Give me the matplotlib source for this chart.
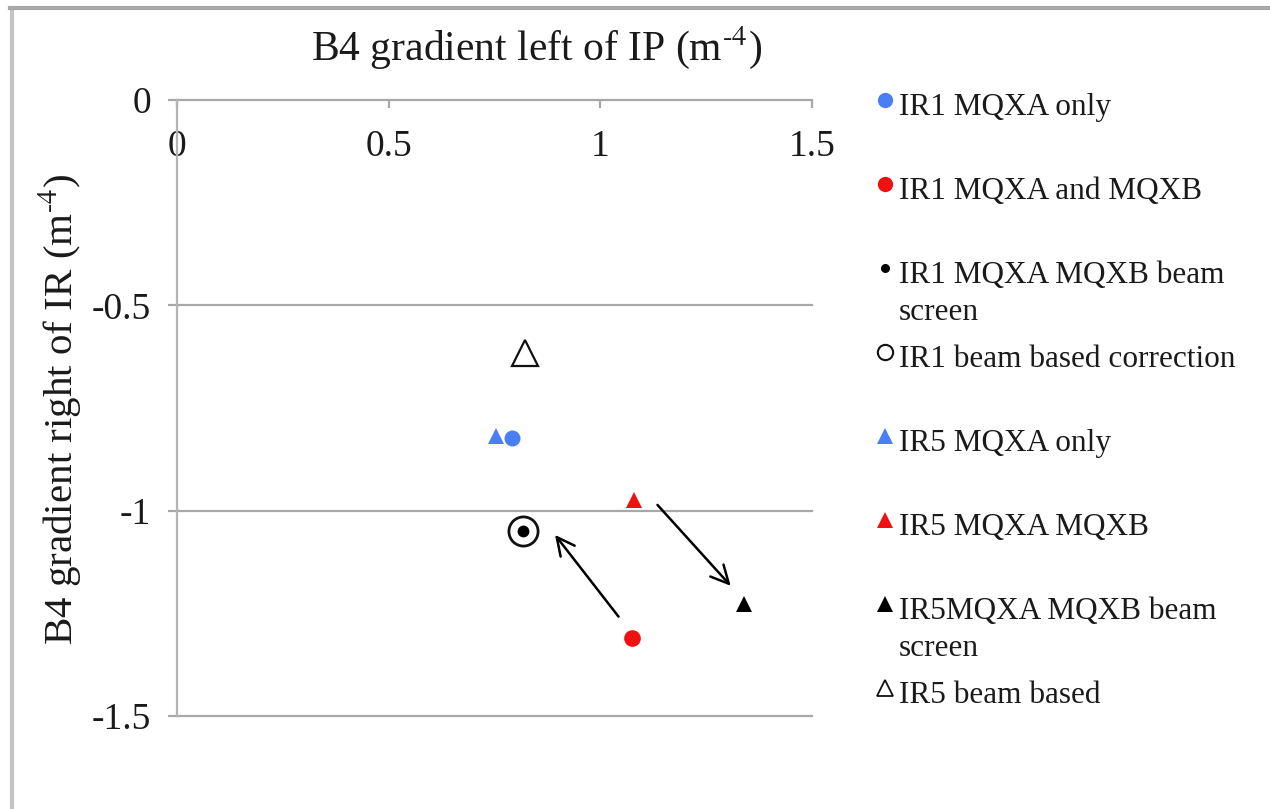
import matplotlib
matplotlib.use("Agg")
import matplotlib.pyplot as plt
from matplotlib.lines import Line2D

plt.rcParams['font.family'] = ['Liberation Serif', 'DejaVu Serif']
plt.rcParams['mathtext.fontset'] = 'stix'

# ---- data ----
series_labels = [
    "IR1 MQXA only",
    "IR1 MQXA and MQXB",
    "IR1 MQXA MQXB beam\nscreen",
    "IR1 beam based correction",
    "IR5 MQXA only",
    "IR5 MQXA MQXB",
    "IR5MQXA MQXB beam\nscreen",
    "IR5 beam based",
]
x_left = [0.792, 1.074, 0.817, 0.817, 0.753, 1.080, 1.339, 0.823]
y_right = [-0.822, -1.311, -1.049, -1.049, -0.818, -0.974, -1.227, -0.615]

x_ticks = [0, 0.5, 1, 1.5]
x_tick_labels = ["0", "0.5", "1", "1.5"]
y_ticks = [0, -0.5, -1, -1.5]
y_tick_labels = ["0", "-0.5", "-1", "-1.5"]

# arrows: (from_x, from_y, to_x, to_y)
arrow_from_x = [1.043, 1.135]
arrow_from_y = [-1.258, -0.986]
arrow_to_x = [0.893, 1.308]
arrow_to_y = [-1.059, -1.183]

# ---- styles ----
BLUE = '#4a7ef5'
RED = '#f01010'
styles = [
    dict(marker='o', ms=11.5, mfc=BLUE, mec=BLUE, mew=0),
    dict(marker='o', ms=12, mfc=RED, mec=RED, mew=0),
    dict(marker='o', ms=8.5, mfc='black', mec='black', mew=0),
    dict(marker='o', ms=21, mfc='none', mec='#111111', mew=2.0),
    dict(marker='^', ms=12, mfc=BLUE, mec=BLUE, mew=0),
    dict(marker='^', ms=12, mfc=RED, mec=RED, mew=0),
    dict(marker='^', ms=12, mfc='black', mec='black', mew=0),
    dict(marker='^', ms=19, mfc='none', mec='#111111', mew=1.6),
]
legend_ms = [11, 11, 6.5, 11, 11, 11, 11, 11]
legend_mew = [0, 0, 0, 1.5, 0, 0, 0, 1.3]

W, H = 1270, 809
fig = plt.figure(figsize=(W / 100, H / 100), dpi=100)
fig.patch.set_facecolor('white')

# outer frame (left and top gray lines)
fig.add_artist(Line2D([12 / W, 12 / W], [0, 1 - 8 / H], transform=fig.transFigure,
                      color='#c4c4c4', lw=3))
fig.add_artist(Line2D([10 / W, 1], [1 - 8 / H, 1 - 8 / H], transform=fig.transFigure,
                      color='#a8a8a8', lw=3))

ax = fig.add_axes([177 / W, 1 - 716 / H, 635 / W, 616 / H])
ax.set_xlim(0, 1.5)
ax.set_ylim(-1.5, 0)

for s in ['top', 'right', 'bottom']:
    ax.spines[s].set_visible(False)
ax.spines['left'].set_color('#b4b4b4')
ax.spines['left'].set_linewidth(1.6)

GRID = '#a8a8a8'
ax.set_yticks(y_ticks)
ax.set_yticklabels(y_tick_labels)
ax.yaxis.grid(True, color=GRID, lw=1.6)
for gl in ax.get_ygridlines():
    gl.set_clip_on(False)
ax.tick_params(axis='y', direction='out', length=6.5, width=1.6, color=GRID,
               labelsize=27, pad=12, labelcolor='#1a1a1a')

ax.set_xticks(x_ticks)
ax.set_xticklabels(x_tick_labels)
ax.xaxis.tick_top()
ax.tick_params(axis='x', direction='in', length=6, width=1.6, color=GRID,
               labelsize=27, pad=-46, labelcolor='#1a1a1a',
               top=True, bottom=False, labeltop=True, labelbottom=False)
ax.set_axisbelow(True)

for xi, yi, st in zip(x_left, y_right, styles):
    ax.plot([xi], [yi], linestyle='none', clip_on=False, zorder=3, **st)

for fx, fy, tx, ty in zip(arrow_from_x, arrow_from_y, arrow_to_x, arrow_to_y):
    ax.annotate('', xy=(tx, ty), xytext=(fx, fy),
                arrowprops=dict(arrowstyle='->', color='black', lw=1.8,
                                mutation_scale=32, shrinkA=0, shrinkB=0))

fig.text(537 / W, 1 - 48 / H, 'B4 gradient left of IP (m$^{\\text{-}4}$)',
         ha='center', va='center', fontsize=30, color='#1a1a1a')
fig.text(60 / W, 1 - 409 / H, 'B4 gradient right of IR (m$^{\\text{-}4}$)',
         ha='center', va='center', rotation=90, fontsize=29.5, color='#1a1a1a')

# legend panel
lax = fig.add_axes([860 / W, 0, 410 / W, 1])
lax.set_xlim(860, 1270)
lax.set_ylim(H, 0)
lax.axis('off')
entry_y0, entry_step, line_step = 104, 84, 37
for i, (lab, st) in enumerate(zip(series_labels, styles)):
    yy = entry_y0 + i * entry_step
    st2 = dict(st)
    st2['ms'] = legend_ms[i]
    st2['mew'] = legend_mew[i]
    lax.plot([885], [yy - 4], linestyle='none', clip_on=False, **st2)
    for j, line in enumerate(lab.split('\n')):
        lax.text(899, yy + j * line_step, line, ha='left', va='center_baseline',
                 fontsize=22.5, color='#1a1a1a')

fig.savefig('out.png', dpi=100)
